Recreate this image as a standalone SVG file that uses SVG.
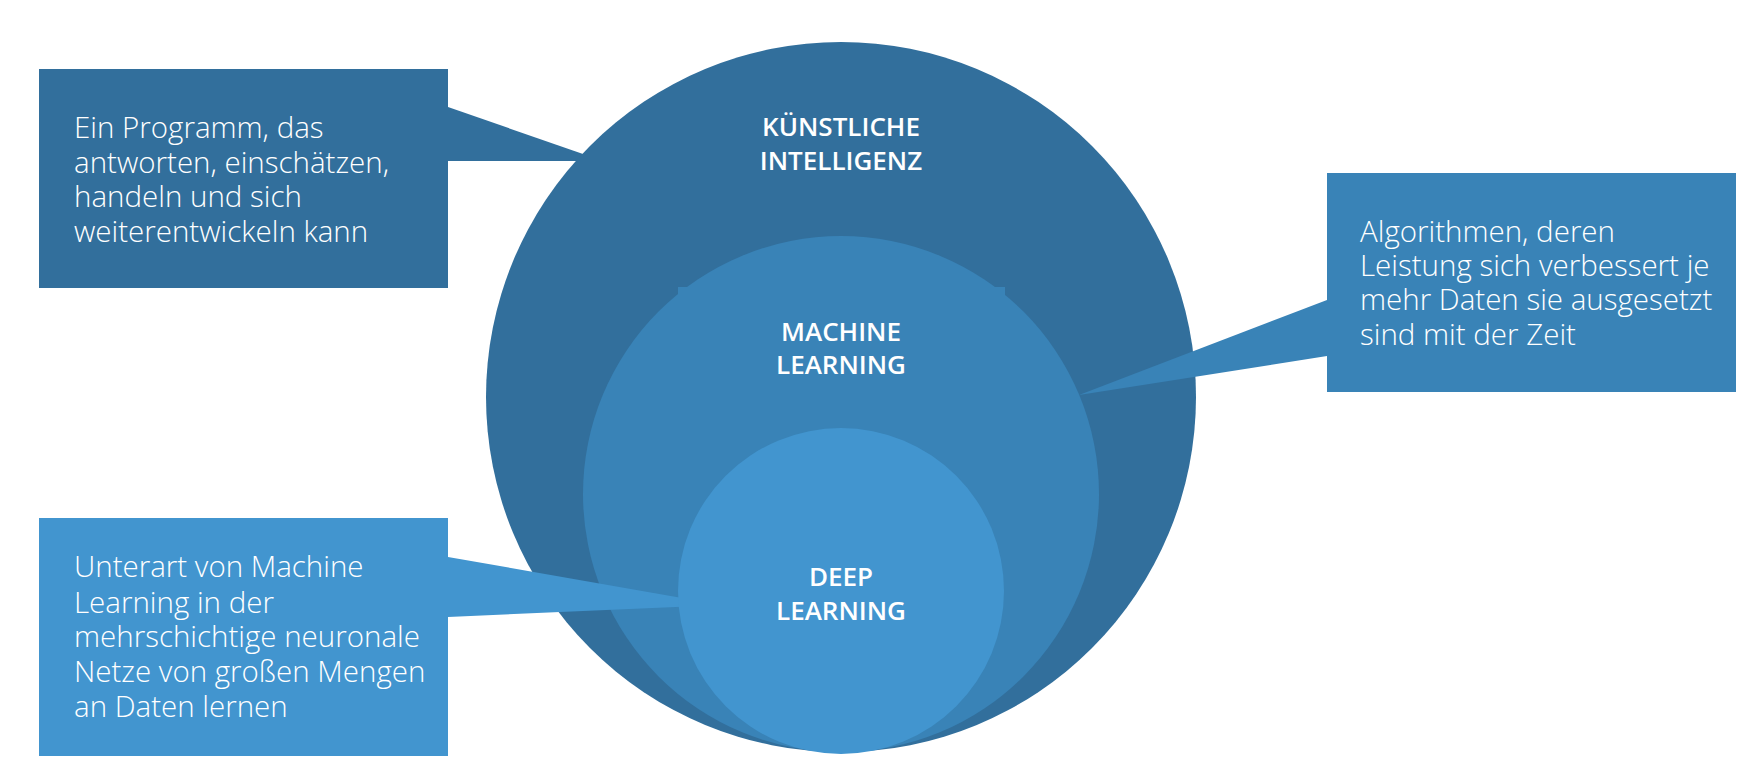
<svg xmlns="http://www.w3.org/2000/svg" width="1762" height="780" viewBox="0 0 1762 780">
<style>
.dark{fill:#326f9c}
.mid{fill:#3983b7}
.light{fill:#4295cf}
.body{font-family:"Open Sans","Liberation Sans",sans-serif;font-size:29.5px;font-weight:300;fill:#ffffff}
.title{font-family:"Open Sans","Liberation Sans",sans-serif;font-size:26px;font-weight:600;fill:#ffffff;text-anchor:middle}
</style>
<rect width="1762" height="780" fill="#ffffff"/>
<g id="connectors">
<polygon class="dark" points="448,107 583,154 583,161 448,161"/>
</g>
<g id="ki">
<circle class="dark" cx="841" cy="397" r="355"/>
<text class="title"><tspan x="841" y="136">KÜNSTLICHE</tspan><tspan x="841" y="170">INTELLIGENZ</tspan></text>
</g>
<g id="connectors-2">
<polygon class="mid" points="1327,300 1079,395 1327,356"/>
</g>
<g id="ml">
<circle class="mid" cx="841" cy="494" r="258"/>
<rect class="mid" x="678" y="287" width="14" height="12"/>
<rect class="mid" x="990" y="287" width="15" height="12"/>
<text class="title"><tspan x="841" y="341">MACHINE</tspan><tspan x="841" y="374">LEARNING</tspan></text>
</g>
<g id="connectors-3">
<polygon class="light" points="448,557 722,605 448,617"/>
</g>
<g id="dl">
<circle class="light" cx="841" cy="591" r="163"/>
<text class="title"><tspan x="841" y="586">DEEP</tspan><tspan x="841" y="620">LEARNING</tspan></text>
</g>
<g id="box-ki">
<rect class="dark" x="39" y="69" width="409" height="219"/>
<text class="body"><tspan x="74" y="138">Ein Programm, das</tspan><tspan x="74" y="173">antworten, einschätzen,</tspan><tspan x="74" y="207">handeln und sich</tspan><tspan x="74" y="242">weiterentwickeln kann</tspan></text>
</g>
<g id="box-ml">
<rect class="mid" x="1327" y="173" width="409" height="219"/>
<text class="body"><tspan x="1360" y="242">Algorithmen, deren</tspan><tspan x="1360" y="276">Leistung sich verbessert je</tspan><tspan x="1360" y="310">mehr Daten sie ausgesetzt</tspan><tspan x="1360" y="345">sind mit der Zeit</tspan></text>
</g>
<g id="box-dl">
<rect class="light" x="39" y="518" width="409" height="238"/>
<text class="body"><tspan x="74" y="577">Unterart von Machine</tspan><tspan x="74" y="613">Learning in der</tspan><tspan x="74" y="647">mehrschichtige neuronale</tspan><tspan x="74" y="682">Netze von großen Mengen</tspan><tspan x="74" y="717">an Daten lernen</tspan></text>
</g>
</svg>
